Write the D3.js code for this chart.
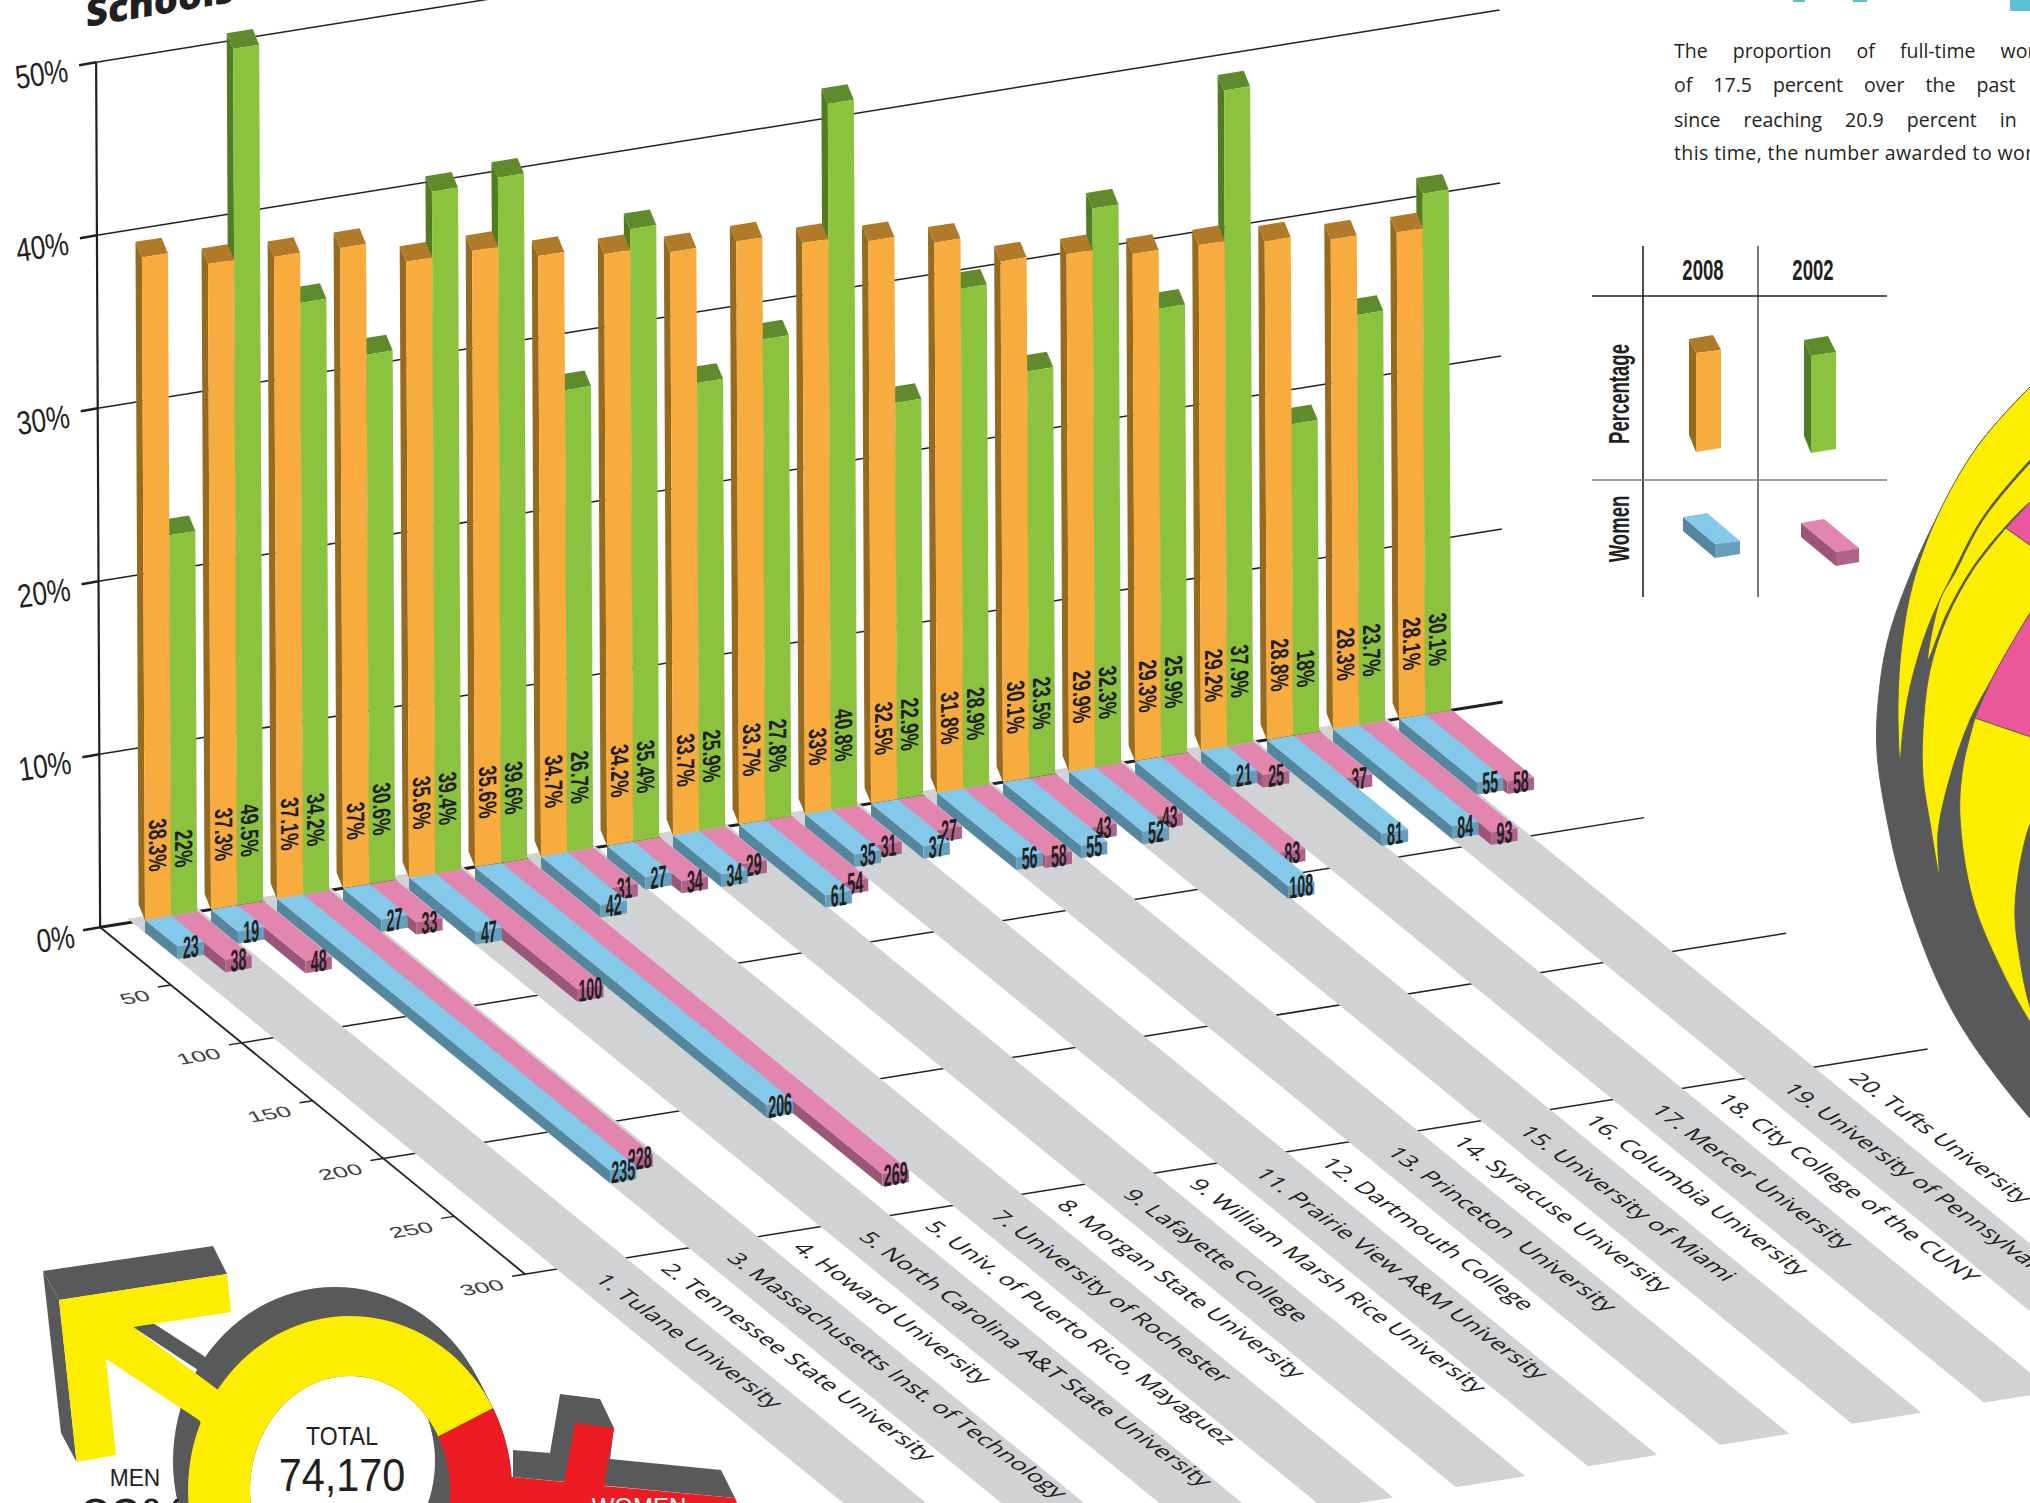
<!DOCTYPE html>
<html>
<head>
<meta charset="utf-8">
<script src="https://cdn.jsdelivr.net/npm/d3@7/dist/d3.min.js"></script>
<style>
  html, body { margin: 0; padding: 0; background: #fff; overflow: hidden; }
  svg { display: block; }
  .narrow { font-family: "Liberation Sans", sans-serif; }
  .open { font-family: "Open Sans", sans-serif; }
</style>
</head>
<body>
<svg id="chart" width="2030" height="1503"></svg>
<script>
// values
var schools = ["1. Tulane University", "2. Tennessee State University", "3. Massachusetts Inst. of Technology",
    "4. Howard University", "5. North Carolina A&T State University", "5. Univ. of Puerto Rico, Mayaguez",
    "7. University of Rochester", "8. Morgan State University", "9. Lafayette College",
    "9. William Marsh Rice University", "11. Prairie View A&M University", "12. Dartmouth College",
    "13. Princeton  University", "14. Syracuse University", "15. University of Miami",
    "16. Columbia University", "17. Mercer University", "18. City College of the CUNY",
    "19. University of Pennsylvania", "20. Tufts University"];
var pct2008 = [38.3, 37.3, 37.1, 37, 35.6, 35.6, 34.7, 34.2, 33.7, 33.7, 33, 32.5, 31.8, 30.1, 29.9, 29.3, 29.2, 28.8, 28.3, 28.1];
var pct2002 = [22, 49.5, 34.2, 30.6, 39.4, 39.6, 26.7, 35.4, 25.9, 27.8, 40.8, 22.9, 28.9, 23.5, 32.3, 25.9, 37.9, 18, 23.7, 30.1];
var women2008 = [23, 19, 235, 27, 47, 206, 42, 27, 34, 61, 35, 37, 56, 55, 52, 108, 21, 81, 84, 55];
var women2002 = [38, 48, 228, 33, 100, 269, 31, 34, 29, 54, 31, 27, 58, 43, 43, 83, 25, 37, 93, 58];
var pctTicks = [0, 10, 20, 30, 40, 50];
var depthTicks = [50, 100, 150, 200, 250, 300];
var genderShare = [82.5, 17.5];

var svg = d3.select("#chart");
var line = d3.line();
var poly = function (pts) { return line(pts) + "Z"; };
var ink = "#231F20", dark = "#58595B";

// the floor is a skewed plane: school index along one edge, women count along the other
var uX = d3.scaleLinear().domain([0, 1]).range([145, 211]);
var uY = d3.scaleLinear().domain([0, 1]).range([920, 909.4]);
var vX = d3.scaleLinear().domain([0, 300]).range([0, 425]);
var vY = d3.scaleLinear().domain([0, 300]).range([0, 347]);
var hX = d3.scaleLinear().domain([0, 50]).range([0, -4]);
var hY = d3.scaleLinear().domain([0, 50]).range([0, -865]);

function project(u, v, h) {
    h = h || 0;
    return [uX(u) + vX(v) + hX(h), uY(u) + vY(v) + hY(h)];
}

var uLeft = -0.68, uRight = 20.57;

// grey strips, every second school, drawn first so the floor lines get covered
var gridG = svg.append("g");
var floorG = svg.append("g");

pctTicks.forEach(function (t) {
    var a = project(uLeft, 0, t), b = project(uRight, 0, t);
    gridG.append("path").attr("d", line([a, b]))
        .attr("stroke", ink).attr("fill", "none").attr("stroke-width", t === 0 ? 3 : 1.5);
    gridG.append("path").attr("d", line([[a[0] - 17, a[1] + 3], a]))
        .attr("stroke", ink).attr("fill", "none").attr("stroke-width", 2.5);
    gridG.append("text").attr("class", "narrow")
        .attr("text-anchor", "middle")
        .attr("font-size", 33)
        .attr("fill", ink)
        .attr("transform", "translate(" + (a[0] - 53 + (t === 0 ? 10 : 0)) + "," + (a[1] + 23) + ") rotate(-8) scale(0.8,1)")
        .text(t + "%");
});
gridG.append("path").attr("d", line([project(uLeft, 0, 0), project(uLeft, 0, 50)]))
    .attr("stroke", ink).attr("fill", "none").attr("stroke-width", 2.2);

depthTicks.forEach(function (t) {
    var a = project(uLeft, t), b = project(uRight, t);
    // only every second depth tick runs across the floor
    var end = t % 100 === 0 ? b : a;
    gridG.append("path").attr("d", line([[a[0] - 13, a[1] + 2], end]))
        .attr("stroke", ink).attr("fill", "none").attr("stroke-width", 1.5);
    gridG.append("text")
        .attr("font-family", "Liberation Sans")
        .attr("text-anchor", "end")
        .attr("font-size", 18)
        .attr("fill", "#414042")
        .attr("transform", "matrix(1.4,-0.23,0.5,0.8," + (a[0] - 19) + "," + (a[1] + 15) + ")")
        .text(t);
});
gridG.append("path").attr("d", line([project(uLeft, 0), project(uLeft, 300)]))
    .attr("stroke", ink).attr("fill", "none").attr("stroke-width", 1.8);

var stripEnd = 562;
schools.forEach(function (name, i) {
    if (i % 2 === 0) {
        floorG.append("path")
            .attr("d", poly([project(i - 0.2, -3), project(i + 0.85, -3), project(i + 0.85, stripEnd), project(i - 0.2, stripEnd)]))
            .attr("fill", "#D1D2D4");
    }
});

// school names lie flat on the floor
schools.forEach(function (name, i) {
    var p = project(i + 0.1, 312);
    floorG.append("text").attr("class", "open")
        .attr("font-size", 24)
        .attr("fill", ink)
        .attr("transform", "matrix(0.81,0.59,-0.8,0.42," + p[0] + "," + p[1] + ")")
        .attr("xml:space", "preserve")
        .text(name);
});

// women bars, right to left so the nearer ones sit on top
var flatDrop = -0.72;
function flatBar(g, i, u0, u1, val, cols) {
    var a = project(i + u0, 0), b = project(i + u1, 0), c = project(i + u1, val), d = project(i + u0, val);
    var c2 = project(i + u1, val, flatDrop), d2 = project(i + u0, val, flatDrop), a2 = project(i + u0, 0, flatDrop);
    g.append("path").attr("d", poly([a, d, d2, a2])).attr("fill", cols.side);
    g.append("path").attr("d", poly([a, b, c, d])).attr("fill", cols.top);
    g.append("path").attr("d", poly([d, c, c2, d2])).attr("fill", cols.front);
    var mid = project(i + (u0 + u1) / 2, val, flatDrop);
    g.append("text").attr("class", "narrow")
        .attr("font-weight", "bold")
        .attr("font-size", 31)
        .attr("text-anchor", "middle")
        .attr("fill", ink)
        .attr("transform", "matrix(0.46,-0.08,0,1," + mid[0] + "," + (mid[1] + 0.5) + ")")
        .text(val);
}
var blueCols = { top: "#84C9E9", side: "#54869E", front: "#669FBC" };
var pinkCols = { top: "#E285AF", side: "#9B5578", front: "#B06289" };
var flatG = svg.append("g");
d3.range(schools.length - 1, -1, -1).forEach(function (i) {
    flatBar(flatG, i, 0.4, 0.8, women2002[i], pinkCols);
    flatBar(flatG, i, 0, 0.4, women2008[i], blueCols);
});

// percentage columns
function column(g, i, u0, u1, val, cols) {
    var back = 0.16, backV = -12;
    var fl0 = project(i + u0, 0), fr0 = project(i + u1, 0);
    var fl = project(i + u0, 0, val), fr = project(i + u1, 0, val);
    var bl0 = project(i + u0 + back, backV), bl = project(i + u0 + back, backV, val), br = project(i + u1 + back, backV, val);
    g.append("path").attr("d", poly([bl0, fl0, fl, bl])).attr("fill", cols.side);
    g.append("path").attr("d", poly([bl, br, fr, fl])).attr("fill", cols.top);
    g.append("path").attr("d", poly([fl0, fr0, fr, fl])).attr("fill", cols.front);
    var p = project(i + u0 + 0.07, 0, 2.7);
    g.append("text").attr("class", "narrow")
        .attr("font-weight", "bold")
        .attr("font-size", 25)
        .attr("text-anchor", "end")
        .attr("fill", ink)
        .attr("transform", "matrix(0,0.74,-1,0.16," + p[0] + "," + p[1] + ")")
        .text(val + "%");
}
var orangeCols = { front: "#F7AC3D", side: "#976B1F", top: "#B07A28" };
var greenCols = { front: "#8BC33F", side: "#517C22", top: "#5F8B2C" };
var colG = svg.append("g");
schools.forEach(function (name, i) {
    column(colG, i, 0.395, 0.79, pct2002[i], greenCols);
    column(colG, i, 0, 0.395, pct2008[i], orangeCols);
});

// clipped title and text at the top
svg.append("text").attr("class", "open")
    .attr("font-weight", 800).attr("font-size", 38).attr("fill", ink)
    .attr("transform", "matrix(1,-0.17,0,1,86,27)")
    .text("Schools");
svg.append("g").selectAll("rect")
    .data([[1793, 12, 2], [1853, 14, 2], [2010, 20, 11]])
    .enter().append("rect")
    .attr("x", function (d) { return d[0]; }).attr("y", 0)
    .attr("width", function (d) { return d[1]; }).attr("height", function (d) { return d[2]; })
    .attr("fill", "#5BC0D6");

var paragraph = [
    { text: "The proportion of full-time women", y: 58, gap: 20, track: 0 },
    { text: "of 17.5 percent over the past few", y: 92, gap: 16, track: 0 },
    { text: "since reaching 20.9 percent in", y: 127, gap: 18, track: 0 },
    { text: "this time, the number awarded to women", y: 160, gap: 0, track: 0.4 }
];
svg.append("g").selectAll("text").data(paragraph).enter().append("text")
    .attr("class", "open")
    .attr("x", 1674).attr("y", function (d) { return d.y; })
    .attr("font-size", 19.5).attr("fill", ink)
    .attr("word-spacing", function (d) { return d.gap; })
    .attr("letter-spacing", function (d) { return d.track; })
    .text(function (d) { return d.text; });

// legend table
var legend = svg.append("g");
[[1643, 246, 1643, 597, ink], [1758, 246, 1758, 597, dark], [1592, 296, 1887, 296, ink], [1592, 480, 1887, 480, "#808285"]].forEach(function (l) {
    legend.append("path").attr("d", line([[l[0], l[1]], [l[2], l[3]]])).attr("stroke", l[4]).attr("stroke-width", 1.6).attr("fill", "none");
});
function legendText(s, x, y, rot) {
    legend.append("text").attr("class", "narrow").attr("font-weight", "bold")
        .attr("font-size", 29).attr("fill", ink).attr("text-anchor", "middle")
        .attr("transform", "translate(" + x + "," + y + ") rotate(" + rot + ") scale(0.64,1)")
        .text(s);
}
legendText("2008", 1703, 280, 0);
legendText("2002", 1813, 280, 0);
legendText("Percentage", 1629, 394, -90);
legendText("Women", 1629, 529, -90);
function swatch(front, side, top, cols) {
    legend.append("path").attr("d", poly(side)).attr("fill", cols.side);
    legend.append("path").attr("d", poly(top)).attr("fill", cols.top);
    legend.append("path").attr("d", poly(front)).attr("fill", cols.front);
}
swatch([[1696, 353], [1721, 350], [1721, 448], [1696, 452]], [[1689, 339], [1696, 353], [1696, 452], [1689, 435]], [[1689, 339], [1713, 335], [1721, 350], [1696, 353]], orangeCols);
swatch([[1811, 356], [1836, 352], [1836, 449], [1811, 453]], [[1804, 340], [1811, 356], [1811, 453], [1804, 436]], [[1804, 340], [1828, 336], [1836, 352], [1811, 356]], greenCols);
swatch([[1715, 544], [1740, 541], [1740, 554], [1715, 558]], [[1683, 517], [1715, 544], [1715, 558], [1683, 531]], [[1683, 517], [1707, 513], [1740, 541], [1715, 544]], blueCols);
swatch([[1836, 552], [1859, 548], [1859, 562], [1836, 566]], [[1801, 523], [1836, 552], [1836, 566], [1801, 537]], [[1801, 523], [1824, 519], [1859, 548], [1836, 552]], pinkCols);

// gender ring with the male and female arms
var yellow = "#FDEE00", red = "#ED1C24", magenta = "#EC579C";
var ringG = svg.append("g");
var ring = { cx: 350, cy: 1490, rx: 162, ry: 174, hx: 100, hy: 114 };
function ringPath(a0, a1, dx, dy) {
    var steps = d3.range(0, 101).map(function (k) { return a0 + (a1 - a0) * k / 100; });
    var outer = steps.map(function (a) { return [ring.cx + dx + ring.rx * Math.sin(a), ring.cy + dy - ring.ry * Math.cos(a)]; });
    var inner = steps.slice().reverse().map(function (a) { return [ring.cx + dx + ring.hx * Math.sin(a), ring.cy + dy - ring.hy * Math.cos(a)]; });
    return poly(outer.concat(inner));
}
d3.range(0, 1.001, 0.05).forEach(function (k) {
    ringG.append("path").attr("d", ringPath(0, 2 * Math.PI, -15 * k, -29 * k)).attr("fill", dark).attr("fill-rule", "nonzero");
});
[[[43, 1271], [213, 1246], [227, 1274], [59, 1300]], [[43, 1271], [59, 1300], [76.5, 1462], [61, 1433]], [[133, 1327], [153, 1323], [204, 1356], [219, 1384]],
 [[513, 1450], [550, 1453], [560, 1394], [600, 1399], [614, 1428], [610, 1459], [721, 1470], [735, 1498], [513, 1477]]].forEach(function (p) {
    ringG.append("path").attr("d", poly(p)).attr("fill", dark);
});
ringG.append("path")
    .attr("d", poly([[59, 1300], [227, 1274], [231, 1312], [133, 1327], [225, 1395], [205, 1430], [199, 1420], [106, 1359], [116, 1455], [76.5, 1462]]))
    .attr("fill", yellow);
ringG.append("path")
    .attr("d", poly([[513, 1477], [564, 1482], [575, 1423], [614, 1428], [604, 1486], [735, 1498], [740, 1510], [480, 1510], [480, 1477]]))
    .attr("fill", red);
var sectors = d3.pie().sort(null).startAngle(62 * Math.PI / 180 + genderShare[1] * 0.02 * Math.PI).endAngle(62 * Math.PI / 180 + genderShare[1] * 0.02 * Math.PI + 2 * Math.PI)(genderShare);
ringG.append("path").attr("d", ringPath(sectors[0].startAngle, sectors[0].endAngle, 0, 0)).attr("fill", yellow);
ringG.append("path").attr("d", ringPath(sectors[1].startAngle, sectors[1].endAngle, 0, 0)).attr("fill", red);
function ringText(s, x, y, size, col, sx) {
    ringG.append("text").attr("class", "narrow").attr("font-size", size).attr("fill", col)
        .attr("text-anchor", "middle")
        .attr("transform", "translate(" + x + "," + y + ") scale(" + sx + ",1)")
        .text(s);
}
ringText("TOTAL", 342, 1445, 25, ink, 0.92);
ringText("74,170", 342, 1491, 46, ink, 0.9);
ringText("MEN", 135, 1486, 24, ink, 0.95);
ringText("83%", 135, 1535, 52, ink, 1.05);
ringText("WOMEN", 639, 1515, 24, "#fff", 1);

// big layered disc on the right edge
var curve = d3.line().curve(d3.curveCatmullRom);
var discG = svg.append("g");
function discShape(pts, col) {
    discG.append("path").attr("d", curve(pts) + "Z").attr("fill", col).attr("stroke", dark).attr("stroke-width", 0.9);
}
discShape([[2040, 378], [2030, 387], [1977, 447], [1937, 517], [1907, 583], [1887, 643], [1878, 703], [1877, 753], [1887, 820], [1903, 887], [1937, 980], [1970, 1040], [2030, 1118], [2045, 1132], [2060, 760]], dark);
discShape([[2040, 378], [2030, 387], [1977, 447], [1937, 517], [1913, 583], [1902, 643], [1898, 703], [1900, 760], [1903, 730], [1910, 687], [1928, 627], [1953, 573], [1983, 517], [2030, 460], [2045, 445]], yellow);
discShape([[2045, 448], [2030, 463], [1983, 520], [1955, 573], [1940, 600], [1928, 660], [1947, 613], [1973, 567], [2005, 527], [2030, 502], [2045, 490]], yellow);
discShape([[2006, 528], [1973, 570], [1947, 618], [1930, 670], [1923, 730], [1923, 777], [1930, 823], [1939, 873], [1938, 833], [1950, 777], [1970, 720], [1993, 677], [2030, 613], [2045, 590], [2045, 556]], yellow);
discG.append("path").attr("d", poly([[2006, 528], [2030, 502], [2040, 495], [2040, 552]])).attr("fill", magenta).attr("stroke", dark).attr("stroke-width", 0.9);
discG.append("path").attr("d", curve([[1975, 718], [1993, 677], [2030, 613], [2045, 590]]) + "L2045,742Z").attr("fill", magenta).attr("stroke", dark).attr("stroke-width", 0.9);
discShape([[1975, 718], [1963, 767], [1960, 817], [1973, 900], [2003, 973], [2030, 1022], [2045, 1045], [2030, 1007], [2020, 960], [2015, 907], [2027, 833], [2045, 790], [2045, 742]], yellow);
</script>
</body>
</html>
